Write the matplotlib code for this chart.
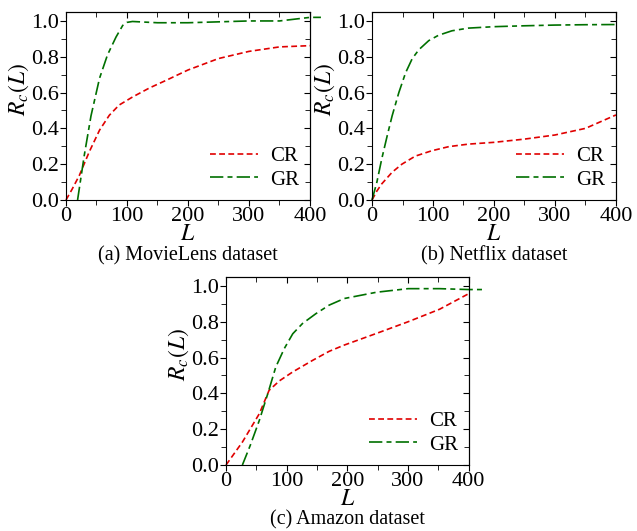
import numpy as np
import matplotlib.pyplot as plt
from matplotlib.ticker import MultipleLocator

plt.rcParams['font.family'] = ['Liberation Serif', 'DejaVu Serif']
plt.rcParams['mathtext.fontset'] = 'stix'

# (a) MovieLens
ml_cr_L = [0, 10, 22, 38, 55, 71, 87, 109, 137, 164, 200, 250, 300, 350, 400]
ml_cr = [0.0, 0.06, 0.138, 0.268, 0.39, 0.473, 0.53, 0.575, 0.626, 0.668, 0.726, 0.79, 0.83, 0.855, 0.862]
ml_gr_L = [19, 30, 41, 55, 68, 82, 93, 100, 109, 150, 200, 250, 300, 350, 375, 400, 418]
ml_gr = [0.0, 0.25, 0.47, 0.68, 0.81, 0.91, 0.975, 0.992, 0.997, 0.99, 0.99, 0.995, 1.0, 1.0, 1.01, 1.02, 1.02]

# (b) Netflix
nf_cr_L = [0, 8, 16, 33, 49, 71, 98, 126, 158, 200, 250, 300, 350, 400]
nf_cr = [0.0, 0.05, 0.09, 0.155, 0.2, 0.245, 0.275, 0.298, 0.312, 0.322, 0.34, 0.363, 0.40, 0.475]
nf_gr_L = [0, 8, 16, 25, 33, 44, 55, 66, 77, 93, 109, 131, 158, 200, 250, 300, 350, 400]
nf_gr = [0.0, 0.10, 0.23, 0.36, 0.47, 0.60, 0.71, 0.79, 0.84, 0.89, 0.92, 0.945, 0.96, 0.968, 0.973, 0.977, 0.979, 0.98]

# (c) Amazon
am_cr_L = [0, 27, 55, 71, 88, 110, 143, 170, 195, 248, 300, 352, 400]
am_cr = [0.0, 0.128, 0.287, 0.417, 0.47, 0.52, 0.585, 0.635, 0.67, 0.735, 0.80, 0.87, 0.957]
am_gr_L = [27, 40, 55, 69, 82, 96, 110, 126, 148, 170, 195, 248, 300, 352, 400, 426]
am_gr = [0.0, 0.11, 0.25, 0.40, 0.547, 0.65, 0.733, 0.79, 0.845, 0.893, 0.93, 0.965, 0.985, 0.985, 0.98, 0.98]

panels = [
    ('(a) MovieLens dataset', ml_cr_L, ml_cr, ml_gr_L, ml_gr, [0.1036, 0.6234, 0.383, 0.354], -0.295),
    ('(b) Netflix dataset', nf_cr_L, nf_cr, nf_gr_L, nf_gr, [0.584, 0.6234, 0.383, 0.354], -0.295),
    ('(c) Amazon dataset', am_cr_L, am_cr, am_gr_L, am_gr, [0.3548, 0.1243, 0.381, 0.354], -0.29),
]

fig = plt.figure(figsize=(6.37, 5.31), dpi=100)

for title, cL, cy, gL, gy, pos, ty in panels:
    ax = fig.add_axes(pos)
    ax.plot(cL, cy, color='#e00000', ls=(0, (3.5, 2)), lw=1.2, label='CR', clip_on=False)
    ax.plot(gL, gy, color='#007000', ls=(0, (8, 2.5, 3, 2.5)), lw=1.2, label='GR', clip_on=False)
    ax.set_xlim(0, 400)
    ax.set_ylim(0, 1.05)
    ax.xaxis.set_major_locator(MultipleLocator(100))
    ax.xaxis.set_minor_locator(MultipleLocator(50))
    ax.yaxis.set_major_locator(MultipleLocator(0.2))
    ax.yaxis.set_minor_locator(MultipleLocator(0.1))
    ax.yaxis.set_major_formatter(plt.FormatStrFormatter('%.1f'))
    ax.tick_params(which='both', direction='out', top=False, right=False, labelsize=16, pad=1)
    ax.tick_params(which='major', length=4)
    ax.tick_params(which='minor', length=3.5)
    # inward ticks on the right and top spines
    sec = ax.secondary_yaxis('right')
    sec.yaxis.set_major_locator(MultipleLocator(0.2))
    sec.yaxis.set_minor_locator(MultipleLocator(0.1))
    sec.tick_params(which='both', direction='in', labelright=False)
    sec.tick_params(which='major', length=4)
    sec.tick_params(which='minor', length=3.5)
    secx = ax.secondary_xaxis('top')
    secx.xaxis.set_major_locator(MultipleLocator(100))
    secx.xaxis.set_minor_locator(MultipleLocator(50))
    secx.tick_params(which='both', direction='in', labeltop=False)
    secx.tick_params(which='major', length=4)
    secx.tick_params(which='minor', length=3.5)
    ax.set_xlabel('$L$', fontsize=17)
    ax.xaxis.set_label_coords(0.5, -0.13)
    ax.set_ylabel('$R_c(L)$', fontsize=17)
    ax.yaxis.set_label_coords(-0.145, 0.59)
    ax.legend(loc='lower right', frameon=False, fontsize=15, handlelength=2.3,
              handletextpad=0.6, borderaxespad=0.1, labelspacing=0.2)
    ax.text(0.5, ty, title, transform=ax.transAxes, ha='center', va='center', fontsize=14.5)

fig.savefig('out.png', dpi=100)
